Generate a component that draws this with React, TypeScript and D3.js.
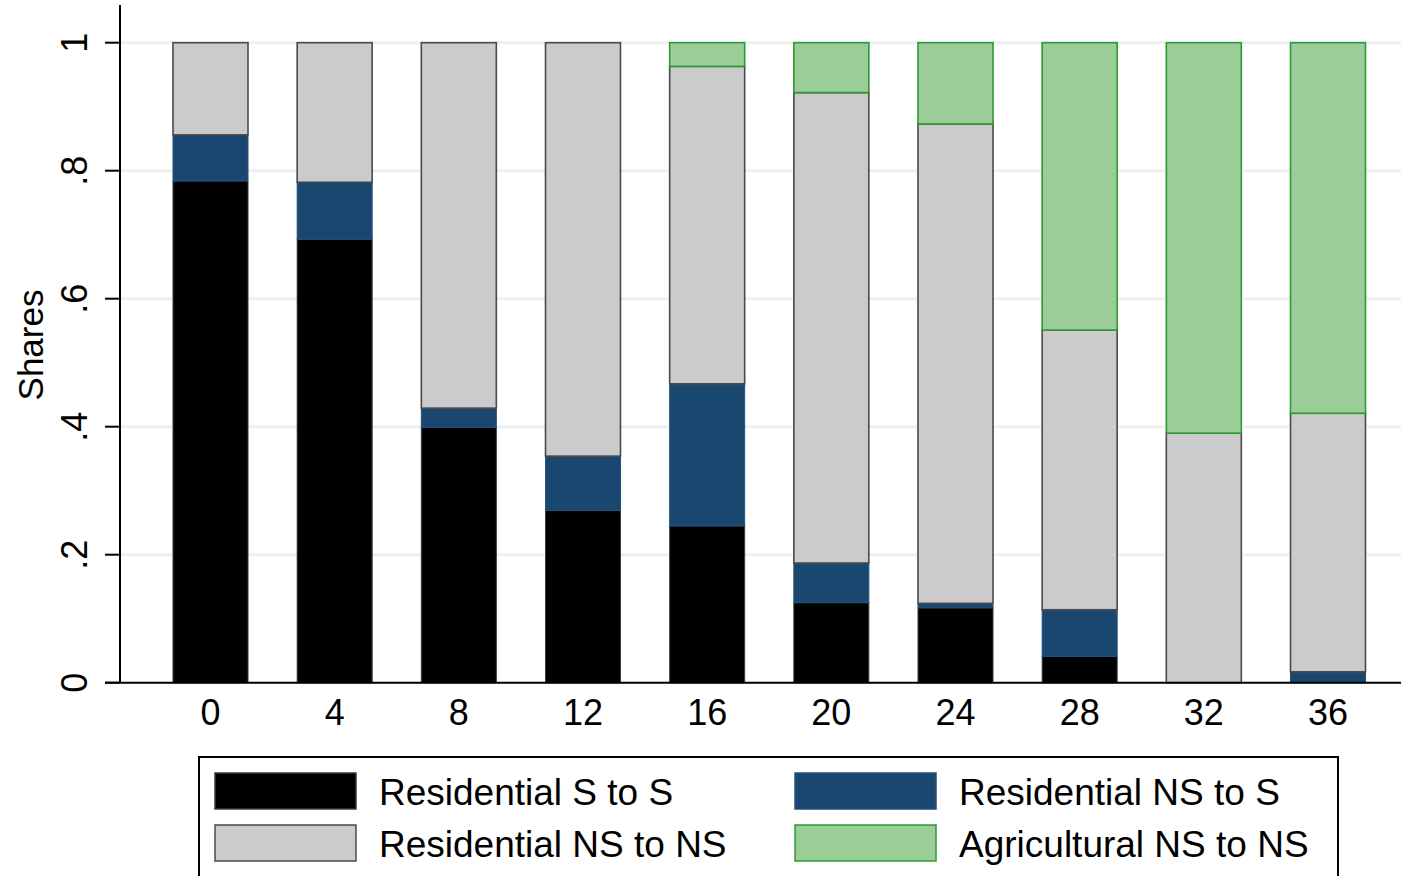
import React from "react";
import * as d3 from "d3";

// Periods on the x axis
const periods: number[] = [0, 4, 8, 12, 16, 20, 24, 28, 32, 36];

// Shares by transition type (each column sums to 1)
const resSToS: number[] = [0.784, 0.693, 0.399, 0.269, 0.245, 0.125, 0.117, 0.041, 0, 0];
const resNSToS: number[] = [0.072, 0.089, 0.03, 0.085, 0.222, 0.062, 0.007, 0.073, 0, 0.017];
const resNSToNS: number[] = [0.144, 0.218, 0.571, 0.646, 0.496, 0.735, 0.749, 0.437, 0.39, 0.404];
const agrNSToNS: number[] = [0, 0, 0, 0, 0.037, 0.078, 0.127, 0.449, 0.61, 0.579];

const yTicks: number[] = [0, 0.2, 0.4, 0.6, 0.8, 1];
const yTickLabels: string[] = ["0", ".2", ".4", ".6", ".8", "1"];

const seriesKeys = ["sToS", "nsToS", "nsToNs", "agr"] as const;
const seriesNames: Record<string, string> = {
  sToS: "Residential S to S",
  nsToS: "Residential NS to S",
  nsToNs: "Residential NS to NS",
  agr: "Agricultural NS to NS",
};
const fills: Record<string, string> = {
  sToS: "#000000",
  nsToS: "#1a476f",
  nsToNs: "#cbcbcb",
  agr: "#9acd98",
};
const strokes: Record<string, string> = {
  sToS: "#3a3a3a",
  nsToS: "#24517a",
  nsToNs: "#4a4a4a",
  agr: "#2f9a2f",
};

const W = 1401;
const H = 876;
const FONT = "'Liberation Sans', Arial, Helvetica, sans-serif";

export default function App() {
  const rows = periods.map((p, i) => ({
    period: p,
    sToS: resSToS[i],
    nsToS: resNSToS[i],
    nsToNs: resNSToNS[i],
    agr: agrNSToNS[i],
  }));

  const stacked = d3.stack<any>().keys(seriesKeys as unknown as string[])(rows);

  const axisX = 120;
  const y = d3.scaleLinear().domain([0, 1]).range([682.7, 42.7]);
  const x = d3.scaleLinear().domain([0, 36]).range([210.5, 1328]);
  const barW = 75;
  const tickLen = 15;

  return (
    <svg
      width={W}
      height={H}
      style={{ position: "absolute", left: 0, top: 0, background: "#fff" }}
      fontFamily={FONT}
    >
      <rect x={0} y={0} width={W} height={H} fill="#ffffff" />

      {/* horizontal grid */}
      {yTicks.slice(1).map((t) => (
        <line
          key={`g${t}`}
          x1={axisX}
          x2={W}
          y1={y(t)}
          y2={y(t)}
          stroke="#eaf2f3"
          strokeWidth={3}
        />
      ))}

      {/* stacked bars */}
      {stacked.map((layer) => (
        <g key={layer.key}>
          {layer.map((d, i) => {
            const h = y(d[0]) - y(d[1]);
            if (h <= 0.01) return null;
            return (
              <rect
                key={i}
                x={x(periods[i]) - barW / 2}
                y={y(d[1])}
                width={barW}
                height={h}
                fill={fills[layer.key]}
                stroke={strokes[layer.key]}
                strokeWidth={layer.key === "nsToNs" || layer.key === "agr" ? 1.6 : 1}
              />
            );
          })}
        </g>
      ))}

      {/* y axis */}
      <line x1={axisX} x2={axisX} y1={y(1.059)} y2={y(0)} stroke="#000" strokeWidth={2} />
      {yTicks.map((t, i) => (
        <g key={`yt${t}`}>
          <line x1={axisX - tickLen} x2={axisX} y1={y(t)} y2={y(t)} stroke="#000" strokeWidth={2} />
          <text
            transform={`translate(87,${y(t)}) rotate(-90)`}
            textAnchor="middle"
            fontSize={36}
            fill="#000"
          >
            {yTickLabels[i]}
          </text>
        </g>
      ))}
      <text
        transform={`translate(43,345) rotate(-90)`}
        textAnchor="middle"
        fontSize={35}
        fill="#000"
      >
        Shares
      </text>

      {/* x axis */}
      <line x1={axisX - tickLen} x2={W} y1={y(0)} y2={y(0)} stroke="#000" strokeWidth={2} />
      {periods.map((p) => (
        <text key={`xt${p}`} x={x(p)} y={725} textAnchor="middle" fontSize={36} fill="#000">
          {p}
        </text>
      ))}

      {/* legend */}
      <rect x={199} y={757} width={1139} height={140} fill="#fff" stroke="#000" strokeWidth={2} />
      {seriesKeys.map((k, i) => {
        const col = i === 0 || i === 2 ? 0 : 1;
        const row = i < 2 ? 0 : 1;
        const sx = col === 0 ? 215 : 795;
        const sy = row === 0 ? 773 : 825;
        return (
          <g key={`lg${k}`}>
            <rect
              x={sx}
              y={sy}
              width={141}
              height={36}
              fill={fills[k]}
              stroke={strokes[k]}
              strokeWidth={1.5}
            />
            <text x={sx + 164} y={sy + 32} fontSize={37} fill="#000">
              {seriesNames[k]}
            </text>
          </g>
        );
      })}
    </svg>
  );
}
